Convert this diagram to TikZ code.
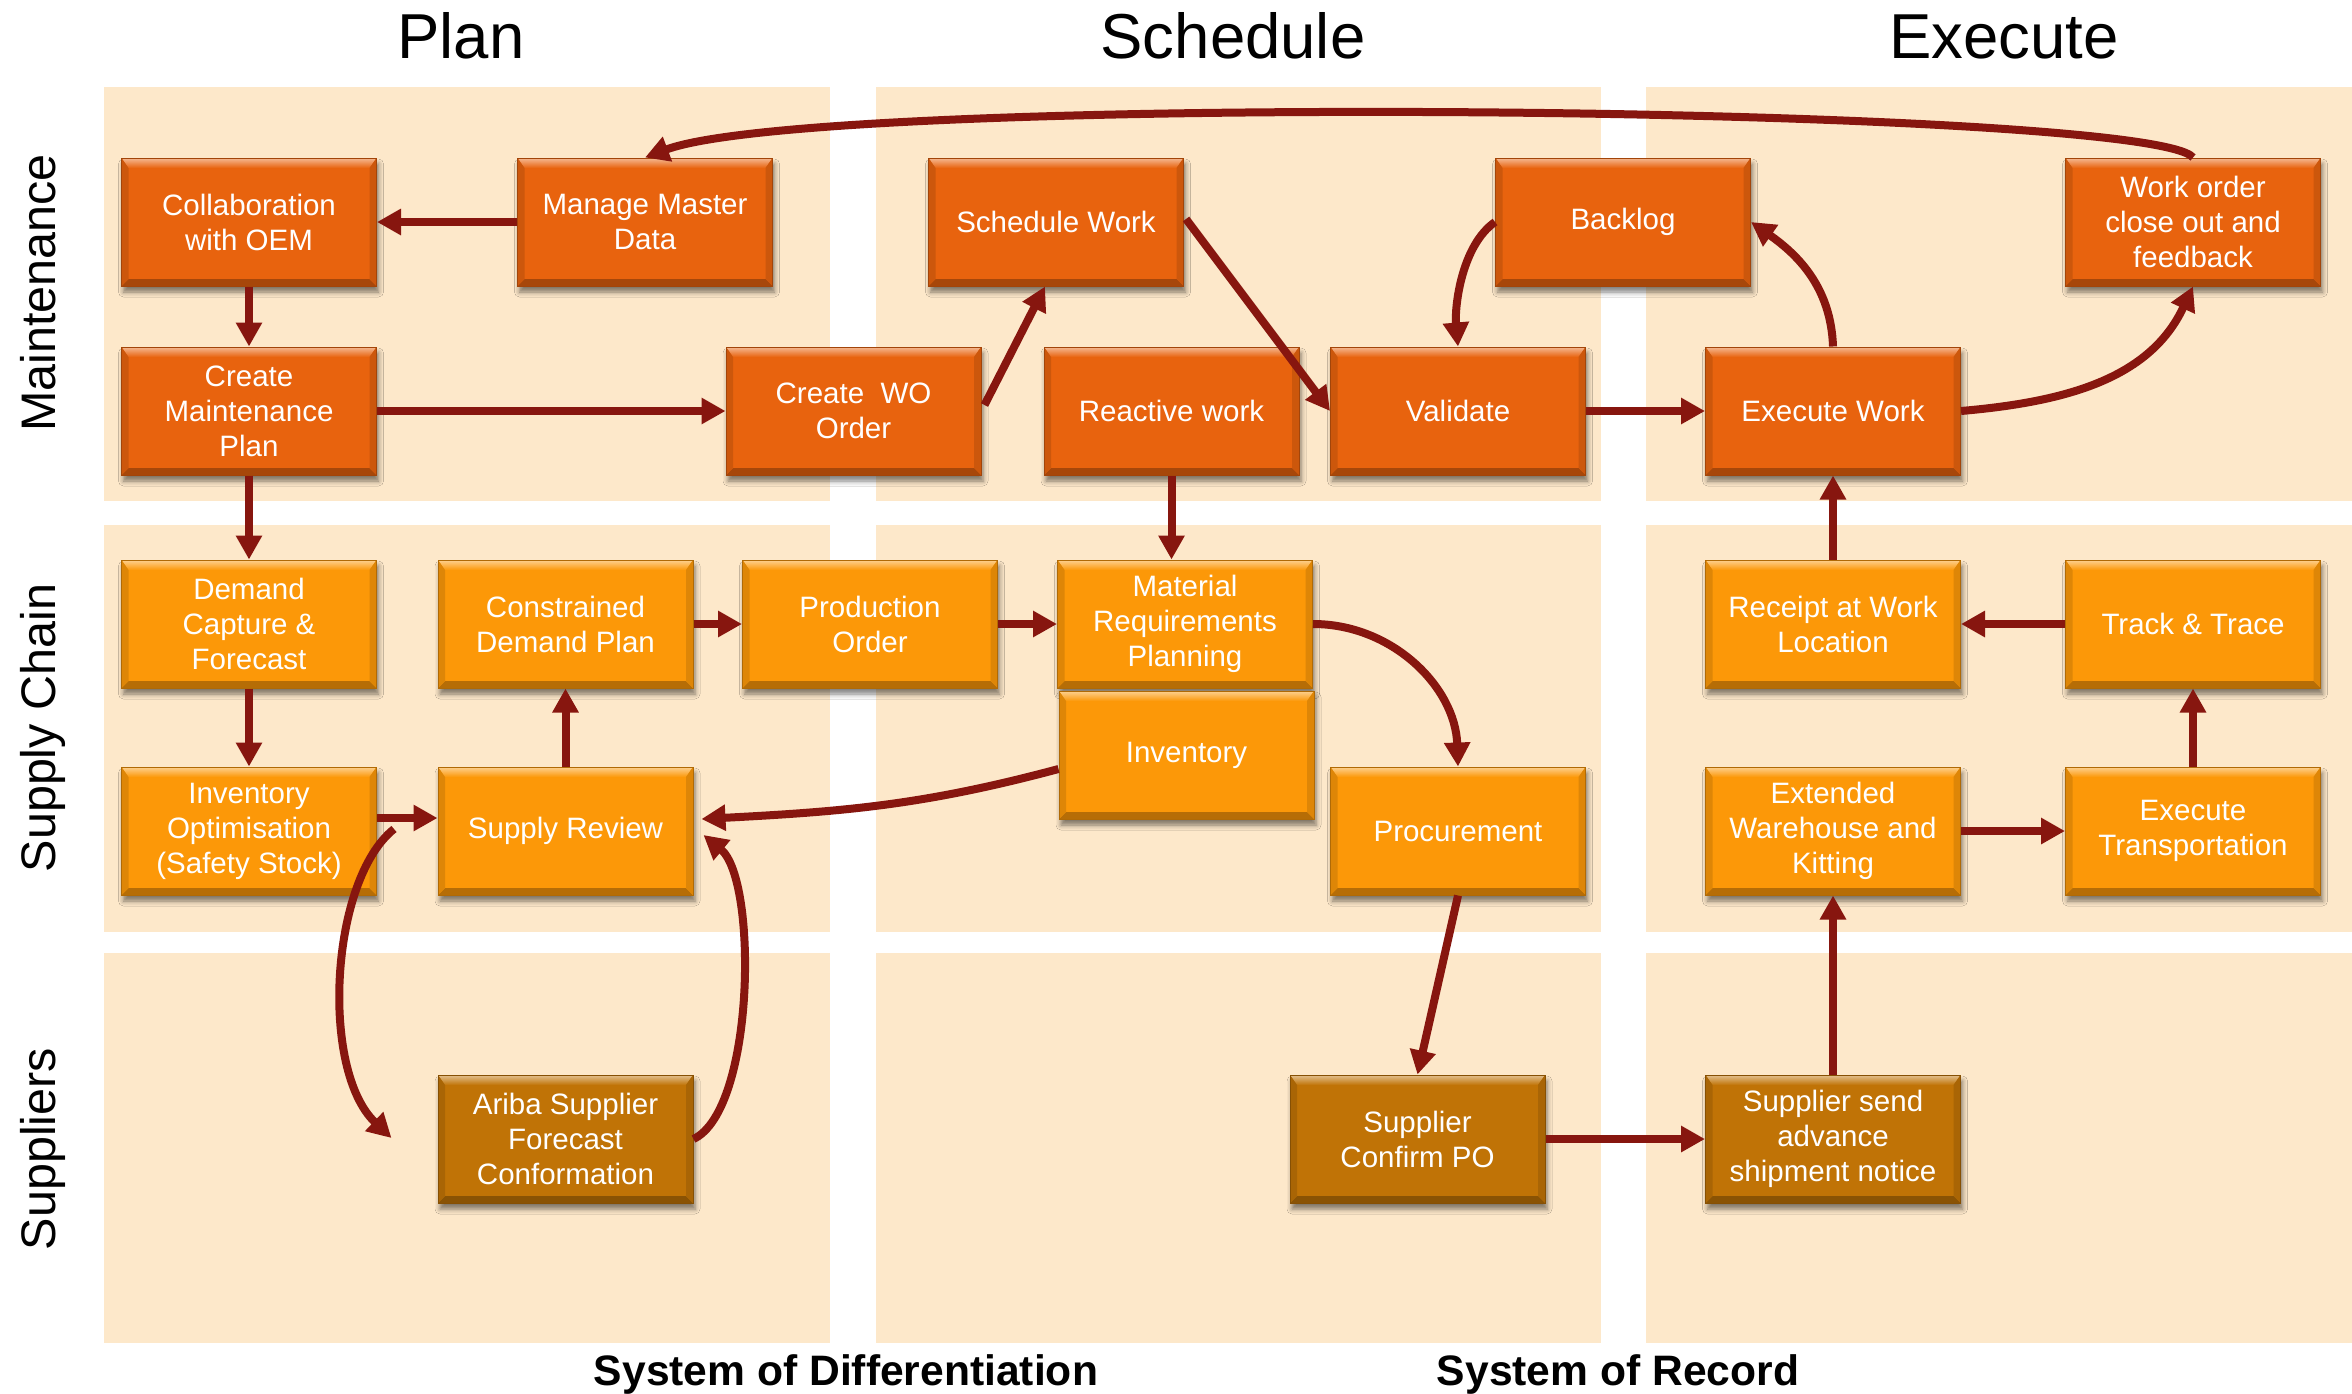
\documentclass[tikz,border=0pt]{standalone}
\usepackage{fontspec}
\setmainfont{Liberation Sans}
\usetikzlibrary{arrows.meta,calc,shadows.blur}

\definecolor{panelbg}{RGB}{253,232,202}
\definecolor{maintcol}{RGB}{232,99,14}
\definecolor{supplycol}{RGB}{252,152,8}
\definecolor{vendorcol}{RGB}{192,115,6}
\definecolor{flowcol}{RGB}{135,22,15}

\tikzset{
  procbox/.style={
    minimum width=255pt, minimum height=128pt, inner sep=0pt,
    align=center, text=white, font=\fontsize{29.5}{35}\selectfont,
    fill=#1, draw=#1!70!black, line width=1pt,
    blur shadow={shadow xshift=2pt, shadow yshift=-6pt,
                 shadow blur radius=5pt, shadow opacity=50},
    path picture={
      \path (path picture bounding box.north west) coordinate (pnw)
            (path picture bounding box.south east) coordinate (pse);
      % bevel: lit top edge, shaded sides and bottom
      \shade[top color=#1!45!white, bottom color=#1]
        (pnw) -- (pnw -| pse) -- ($(pnw -| pse)+(-7,-10)$) -- ($(pnw)+(7,-10)$) -- cycle;
      \fill[#1!72!black]
        (pse) -- (pse -| pnw) -- ($(pse -| pnw)+(7,7)$) -- ($(pse)+(-7,7)$) -- cycle;
      \fill[#1!88!black]
        (pnw) -- ($(pnw)+(7,-10)$) -- ($(pse -| pnw)+(7,7)$) -- (pse -| pnw) -- cycle;
      \fill[#1!88!black]
        (pnw -| pse) -- ($(pnw -| pse)+(-7,-10)$) -- ($(pse)+(-7,7)$) -- (pse) -- cycle;
    }},
  maintbox/.style={procbox=maintcol},
  supplybox/.style={procbox=supplycol},
  vendorbox/.style={procbox=vendorcol},
  flow/.style={draw=flowcol, line width=8pt, -{Triangle[length=24pt,width=25pt]}},
  hdr/.style={font=\fontsize{63.5}{76}\selectfont, text=black, inner sep=0pt},
  side/.style={font=\fontsize{48.5}{58}\selectfont, text=black, inner sep=0pt},
  foot/.style={font=\fontsize{42.6}{51}\selectfont\bfseries, text=black, inner sep=0pt},
}

\begin{document}
\begin{tikzpicture}[x=1pt, y=1pt]
\useasboundingbox[fill=white] (0,0) rectangle (2352,-1393);

% swim-lane panels
\foreach \xa/\xb in {104/830, 876/1601, 1646/2352}{
  \foreach \ya/\yb in {87/501, 525/932, 953/1343}{
    \fill[panelbg] (\xa,-\ya) rectangle (\xb,-\yb);
  }
}

% column and row headings
\node[hdr, anchor=base] (hplan) at (461,-58) {Plan};
\node[hdr, anchor=base] (hsched) at (1233,-58) {Schedule};
\node[hdr, anchor=base] (hexec) at (2004,-58) {Execute};
\node[side, rotate=90, anchor=base] (lmaint) at (55,-293) {Maintenance};
\node[side, rotate=90, anchor=base] (lsupply) at (55,-728) {Supply Chain};
\node[side, rotate=90, anchor=base] (lvendor) at (55,-1149) {Suppliers};
\node[foot, anchor=base] (fdiff) at (846,-1385) {System of Differentiation};
\node[foot, anchor=base] (frec) at (1618,-1385) {System of Record};

% maintenance lane
\node[maintbox] (collab) at (249,-222) {Collaboration\\with OEM};
\node[maintbox] (mmd) at (645,-222) {Manage Master\\Data};
\node[maintbox] (schedw) at (1056,-222) {Schedule Work};
\node[maintbox] (backlog) at (1623,-222) {Backlog};
\node[maintbox] (wo) at (2193,-222) {Work order\\close out and\\feedback};
\node[maintbox] (cmp) at (249,-411) {Create\\Maintenance\\Plan};
\node[maintbox] (cwo) at (853.5,-411) {Create~ WO\\Order};
\node[maintbox] (reactive) at (1171.5,-411) {Reactive work};
\node[maintbox] (validate) at (1458,-411) {Validate};
\node[maintbox] (execw) at (1833,-411) {Execute Work};

% supply chain lane
\node[supplybox] (demand) at (249,-624) {Demand\\Capture \&\\Forecast};
\node[supplybox] (cdp) at (565.5,-624) {Constrained\\Demand Plan};
\node[supplybox] (prod) at (870,-624) {Production\\Order};
\node[supplybox] (mrp) at (1185,-624) {Material\\Requirements\\Planning};
\node[supplybox] (receipt) at (1833,-624) {Receipt at Work\\Location};
\node[supplybox] (track) at (2193,-624) {Track \& Trace};
\node[supplybox] (inv) at (1186.5,-755) {Inventory};
\node[supplybox] (invopt) at (249,-831) {Inventory\\Optimisation\\(Safety Stock)};
\node[supplybox] (review) at (565.5,-831) {Supply Review};
\node[supplybox] (procure) at (1458,-831) {Procurement};
\node[supplybox] (ewh) at (1833,-831) {Extended\\Warehouse and\\Kitting};
\node[supplybox] (exectr) at (2193,-831) {Execute\\Transportation};

% suppliers lane
\node[vendorbox] (ariba) at (565.5,-1139) {Ariba Supplier\\Forecast\\Conformation};
\node[vendorbox] (confirm) at (1417.5,-1139) {Supplier\\Confirm PO};
\node[vendorbox] (asn) at (1833,-1139) {Supplier send\\advance\\shipment notice};

% free ends of the forecast loop
\coordinate (optout) at ($(invopt.east)+(17,2)$);
\coordinate (aribain) at ($(ariba.west)+(-46,1)$);

% maintenance flows
\draw[flow] (mmd.west) -- (collab.east);
\draw[flow] (collab.south) -- (cmp.north);
\draw[flow] (cmp.east) -- (cwo.west);
\draw[flow] ($(cwo.east)+(3,6)$) -- ($(schedw.south)+(-11,0)$);
\draw[flow] ($(schedw.east)+(2,3)$) -- (validate.west);
\draw[flow] (backlog.west) to[out=215,in=95,looseness=0.8] (validate.north);
\draw[flow] (validate.east) -- (execw.west);
\draw[flow] (execw.north) to[out=92,in=-35] (backlog.east);
\draw[flow] (execw.east) to[out=5,in=-115] (wo.south);
\draw[flow] (wo.north) .. controls (2150,-105) and (820,-92) .. (mmd.north);

% supply chain flows
\draw[flow] (cmp.south) -- (demand.north);
\draw[flow] (demand.south) -- (invopt.north);
\draw[flow] ($(invopt.east)+(0,13)$) -- ($(review.west)+(0,13)$);
\draw[flow] (review.north) -- (cdp.south);
\draw[flow] (cdp.east) -- (prod.west);
\draw[flow] (prod.east) -- (mrp.west);
\draw[flow] (reactive.south) -- (reactive.south |- mrp.north);
\draw[flow] (mrp.east) to[out=0,in=92] (procure.north);
\draw[flow] ($(inv.west)+(0,-14)$) to[out=195,in=3] ($(review.east)+(8,12)$);
\draw[flow] (optout) .. controls (330,-880) and (320,-1070) .. (aribain);
\draw[flow] (ariba.east) .. controls (755,-1110) and (758,-880) .. ($(review.east)+(10,-4)$);

% supplier and execution flows
\draw[flow] (procure.south) -- (confirm.north);
\draw[flow] (confirm.east) -- (asn.west);
\draw[flow] (asn.north) -- (ewh.south);
\draw[flow] (ewh.east) -- (exectr.west);
\draw[flow] (exectr.north) -- (track.south);
\draw[flow] (track.west) -- (receipt.east);
\draw[flow] (receipt.north) -- (execw.south);
\end{tikzpicture}
\end{document}
